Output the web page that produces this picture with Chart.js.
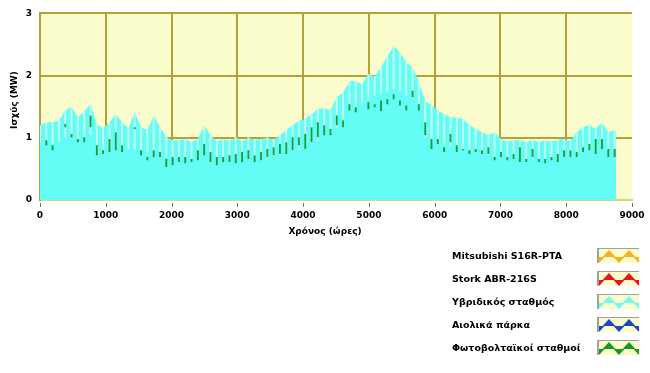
<!DOCTYPE html>
<html>
<head>
<meta charset="utf-8">
<script src="https://cdn.jsdelivr.net/npm/chart.js@4.4.1/dist/chart.umd.min.js"></script>
<style>
  html, body { margin:0; padding:0; background:#fff; }
  #wrap { width:650px; height:373px; }
</style>
</head>
<body>
<div id="wrap"><canvas id="chart" width="650" height="373"></canvas></div>
<script>
// hours of the year (sampled every 4 days)
const HOURS = [
  0, 96, 192, 288, 384, 480, 576, 672, 768, 864,
  960, 1056, 1152, 1248, 1344, 1440, 1536, 1632, 1728, 1824,
  1920, 2016, 2112, 2208, 2304, 2400, 2496, 2592, 2688, 2784,
  2880, 2976, 3072, 3168, 3264, 3360, 3456, 3552, 3648, 3744,
  3840, 3936, 4032, 4128, 4224, 4320, 4416, 4512, 4608, 4704,
  4800, 4896, 4992, 5088, 5184, 5280, 5376, 5472, 5568, 5664,
  5760, 5856, 5952, 6048, 6144, 6240, 6336, 6432, 6528, 6624,
  6720, 6816, 6912, 7008, 7104, 7200, 7296, 7392, 7488, 7584,
  7680, 7776, 7872, 7968, 8064, 8160, 8256, 8352, 8448, 8544,
  8640, 8736, 8760
];
// hybrid station - daily peak (MW)
const HYBRID_PEAK = [
  1.20, 1.25, 1.25, 1.28, 1.44, 1.50, 1.33, 1.42, 1.55, 1.22,
  1.15, 1.25, 1.38, 1.25, 1.15, 1.42, 1.17, 1.12, 1.36, 1.17,
  1.01, 0.96, 0.96, 0.98, 0.93, 0.98, 1.20, 1.04, 0.94, 0.98,
  0.95, 1.01, 0.94, 1.00, 0.97, 0.98, 1.00, 0.97, 1.04, 1.12,
  1.20, 1.28, 1.30, 1.38, 1.46, 1.48, 1.44, 1.65, 1.73, 1.91,
  1.91, 1.86, 2.02, 1.99, 2.13, 2.31, 2.48, 2.37, 2.21, 2.13,
  1.91, 1.59, 1.52, 1.44, 1.38, 1.33, 1.33, 1.30, 1.20, 1.14,
  1.09, 1.04, 1.09, 0.98, 0.94, 0.97, 0.96, 0.93, 0.97, 0.93,
  0.96, 0.94, 0.97, 0.98, 0.95, 1.09, 1.17, 1.20, 1.14, 1.25,
  1.09, 1.12, 1.10
];
// hybrid station - daily low (MW)
const HYBRID_BASE = [
  0.92, 0.92, 0.90, 0.95, 1.00, 1.02, 0.98, 1.00, 1.05, 0.80,
  0.80, 0.82, 0.82, 0.82, 0.82, 0.82, 0.80, 0.78, 0.78, 0.72,
  0.68, 0.66, 0.68, 0.68, 0.66, 0.70, 0.75, 0.68, 0.66, 0.66,
  0.66, 0.66, 0.66, 0.68, 0.66, 0.66, 0.68, 0.70, 0.72, 0.75,
  0.78, 0.80, 0.85, 0.90, 0.95, 1.05, 1.08, 1.15, 1.30, 1.45,
  1.50, 1.55, 1.62, 1.68, 1.72, 1.75, 1.78, 1.75, 1.68, 1.62,
  1.45, 1.00, 0.92, 0.90, 0.88, 0.86, 0.85, 0.82, 0.80, 0.78,
  0.76, 0.72, 0.70, 0.70, 0.68, 0.68, 0.68, 0.66, 0.68, 0.66,
  0.66, 0.68, 0.68, 0.70, 0.70, 0.75, 0.78, 0.80, 0.80, 0.82,
  0.80, 0.80, null
];
// photovoltaic marks (MW, from - to)
const PV_LO = [
  null, 0.88, 0.80, null, 1.17, 1.01, 0.93, 0.93, 1.17, 0.72,
  0.74, 0.77, 0.80, 0.77, null, 1.14, 0.72, 0.64, 0.69, 0.69,
  0.53, 0.56, 0.61, 0.59, 0.61, 0.64, 0.72, 0.61, 0.56, 0.61,
  0.61, 0.59, 0.61, 0.66, 0.61, 0.64, 0.69, 0.72, 0.74, 0.74,
  0.80, 0.88, 0.82, 0.93, 1.01, 1.04, 1.04, 1.20, 1.17, 1.44,
  1.41, null, 1.46, 1.49, 1.43, 1.54, 1.62, 1.52, 1.44, 1.65,
  1.44, 1.04, 0.82, 0.90, 0.77, 0.93, 0.77, 0.80, 0.74, 0.77,
  0.74, 0.74, 0.64, 0.69, 0.64, 0.66, 0.61, 0.61, 0.69, 0.61,
  0.59, 0.64, 0.61, 0.69, 0.69, 0.69, 0.77, 0.80, 0.74, 0.82,
  0.69, 0.69, null
];
const PV_HI = [
  null, 0.96, 0.88, null, 1.22, 1.06, 0.98, 1.01, 1.36, 0.88,
  0.80, 0.98, 1.09, 0.88, null, 1.17, 0.80, 0.69, 0.80, 0.77,
  0.66, 0.69, 0.69, 0.69, 0.66, 0.80, 0.90, 0.77, 0.69, 0.69,
  0.72, 0.74, 0.77, 0.80, 0.72, 0.77, 0.82, 0.85, 0.90, 0.93,
  1.01, 1.01, 1.06, 1.17, 1.25, 1.20, 1.14, 1.36, 1.28, 1.54,
  1.49, null, 1.57, 1.54, 1.60, 1.62, 1.70, 1.60, 1.52, 1.76,
  1.54, 1.25, 0.98, 0.98, 0.85, 1.06, 0.88, 0.82, 0.80, 0.82,
  0.80, 0.85, 0.69, 0.77, 0.69, 0.74, 0.85, 0.66, 0.82, 0.66,
  0.66, 0.69, 0.74, 0.80, 0.80, 0.77, 0.85, 0.90, 0.98, 0.98,
  0.82, 0.82, null
];
const X_TICKS = [0, 1000, 2000, 3000, 4000, 5000, 6000, 7000, 8000, 9000];
const Y_TICKS = [0, 1, 2, 3];
const LEGEND_LABELS = ['Mitsubishi S16R-PTA', 'Stork ABR-216S', 'Υβριδικός σταθμός', 'Αιολικά πάρκα', 'Φωτοβολταϊκοί σταθμοί'];
const LEGEND_COLORS = ['#f8b020', '#e8141c', '#72faf2', '#1848c8', '#189828'];

const OLIVE = '#b3a23c';
const PLOT_BG = '#fafccc';
const FONT = '"DejaVu Sans", Verdana, sans-serif';

const areaPts = HOURS.map((h, i) => ({ x: h, y: HYBRID_PEAK[i] }));
const stripePts = HOURS.map((h, i) => HYBRID_BASE[i] == null ? null : { x: h, y: [HYBRID_BASE[i], HYBRID_PEAK[i]] }).filter(Boolean);
const pvPts = HOURS.map((h, i) => PV_LO[i] == null ? null : { x: h, y: [PV_LO[i], PV_HI[i]] }).filter(Boolean);

const decor = {
  id: 'decor',
  beforeDraw(chart) {
    const { ctx, chartArea: a } = chart;
    ctx.save();
    ctx.fillStyle = PLOT_BG;
    ctx.fillRect(a.left, a.top, a.right - a.left, a.bottom - a.top);
    ctx.restore();
  },
  afterDraw(chart) {
    const { ctx, chartArea: a } = chart;
    const xs = chart.scales.x;
    ctx.save();
    // small tick marks below the axis
    ctx.strokeStyle = '#707070'; ctx.lineWidth = 1;
    X_TICKS.forEach(v => {
      const px = Math.round(xs.getPixelForValue(v)) + 0.5;
      ctx.beginPath(); ctx.moveTo(px, a.bottom + 3); ctx.lineTo(px, a.bottom + 7); ctx.stroke();
    });
    // axis titles
    ctx.fillStyle = '#000';
    ctx.font = 'bold 9px ' + FONT;
    ctx.textAlign = 'center'; ctx.textBaseline = 'middle';
    ctx.fillText('Χρόνος (ώρες)', 325, 232);
    ctx.translate(15, 100); ctx.rotate(-Math.PI / 2);
    ctx.fillText('Ισχύς (MW)', 0, 0);
    ctx.setTransform(1, 0, 0, 1, 0, 0);
    // legend
    ctx.font = 'bold 9.5px ' + FONT;
    ctx.textAlign = 'left';
    LEGEND_LABELS.forEach((lbl, i) => {
      const cy = 257 + i * 23;
      ctx.fillStyle = '#000';
      ctx.fillText(lbl, 452, cy);
      const sx = 597, sy = cy - 9, w = 42, h = 15;
      ctx.fillStyle = PLOT_BG; ctx.fillRect(sx, sy, w, h);
      ctx.fillStyle = '#a0a0a0'; ctx.fillRect(sx, sy, 2, h); ctx.fillRect(sx, sy, w, 1);
      const mid = sy + 9, pk = sy + 3, vl = sy + 14;
      ctx.beginPath();
      ctx.moveTo(sx + 2, vl); ctx.lineTo(sx + 12, pk); ctx.lineTo(sx + 22, vl);
      ctx.lineTo(sx + 32, pk); ctx.lineTo(sx + 42, vl);
      ctx.lineTo(sx + 42, mid); ctx.lineTo(sx + 2, mid); ctx.closePath();
      ctx.fillStyle = LEGEND_COLORS[i]; ctx.fill('evenodd');
      ctx.strokeStyle = LEGEND_COLORS[i]; ctx.lineWidth = 1.5;
      ctx.beginPath();
      ctx.moveTo(sx + 2, vl); ctx.lineTo(sx + 12, pk); ctx.lineTo(sx + 22, vl);
      ctx.lineTo(sx + 32, pk); ctx.lineTo(sx + 42, vl); ctx.stroke();
    });
    ctx.restore();
  }
};

new Chart(document.getElementById('chart'), {
  type: 'bar',
  data: {
    datasets: [
      { type: 'line', label: 'Υβριδικός σταθμός', data: areaPts, borderWidth: 0, borderColor: '#63fdf6',
        backgroundColor: '#63fdf6', fill: 'origin', pointRadius: 0, tension: 0, order: 3 },
      { type: 'bar', label: 'Υβριδικός σταθμός (ημερήσια διακύμανση)', data: stripePts, backgroundColor: '#c2fdf0',
        barPercentage: 0.3, categoryPercentage: 1, grouped: false, order: 2 },
      { type: 'bar', label: 'Φωτοβολταϊκοί σταθμοί', data: pvPts, backgroundColor: '#17a043',
        barPercentage: 0.3, categoryPercentage: 1, grouped: false, order: 1 }
    ]
  },
  options: {
    responsive: false, animation: false, events: [],
    layout: { padding: { top: 12, right: 18, left: 0, bottom: 0 } },
    plugins: { legend: { display: false }, tooltip: { enabled: false } },
    scales: {
      x: {
        type: 'linear', min: 0, max: 9000, offset: false,
        afterBuildTicks: s => { s.ticks = X_TICKS.map(v => ({ value: v })); },
        afterFit: s => { s.height = 173; s.paddingRight = 0; s.paddingLeft = 0; },
        grid: { offset: false, color: c => (c.tick && c.tick.value > 0 && c.tick.value < 9000) ? OLIVE : 'rgba(0,0,0,0)', lineWidth: 2, drawTicks: false },
        border: { display: true, color: '#d3dc7a', width: 2 },
        ticks: { color: '#000', padding: 10, maxRotation: 0, autoSkip: false, callback: v => String(v), font: { family: FONT, size: 9, weight: 'bold' } }
      },
      y: {
        min: 0, max: 3,
        afterBuildTicks: s => { s.ticks = Y_TICKS.map(v => ({ value: v })); },
        afterFit: s => { s.width = 40; },
        grid: { color: c => (c.tick && c.tick.value > 0) ? OLIVE : 'rgba(0,0,0,0)', lineWidth: 2, drawTicks: false },
        border: { display: true, color: OLIVE, width: 2 },
        ticks: { color: '#000', padding: 8, font: { family: FONT, size: 9, weight: 'bold' } }
      }
    }
  },
  plugins: [decor]
});
</script>
</body>
</html>
